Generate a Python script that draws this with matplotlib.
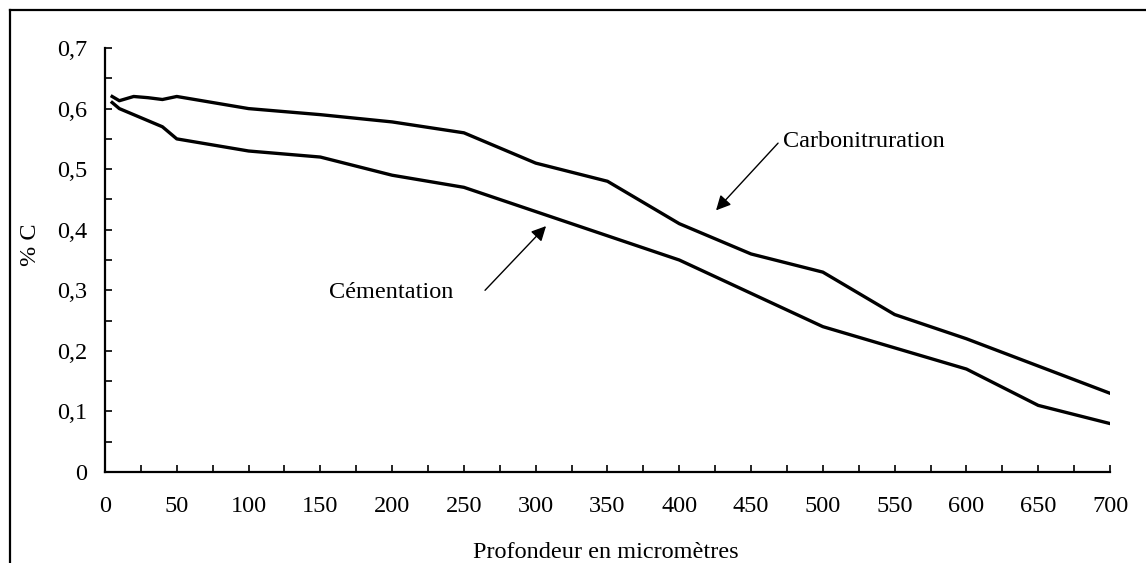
import numpy as np
import matplotlib.pyplot as plt
from matplotlib.lines import Line2D
from matplotlib.ticker import MultipleLocator, FuncFormatter

plt.rcParams['font.family'] = ['Liberation Serif', 'DejaVu Serif']

# Carbonitruration (courbe haute)
x_carbo = [5, 10, 20, 30, 40, 50, 75, 100, 150, 200, 250, 300, 350, 400, 450, 500, 550, 600, 650, 700]
y_carbo = [0.62, 0.613, 0.62, 0.618, 0.615, 0.62, 0.61, 0.60, 0.59, 0.578, 0.56, 0.51, 0.48, 0.41, 0.36, 0.33, 0.26, 0.22, 0.175, 0.13]

# Cementation (courbe basse)
x_cem = [5, 10, 40, 50, 100, 150, 200, 250, 300, 350, 400, 450, 500, 550, 600, 650, 700]
y_cem = [0.61, 0.60, 0.57, 0.55, 0.53, 0.52, 0.49, 0.47, 0.43, 0.39, 0.35, 0.295, 0.24, 0.205, 0.17, 0.11, 0.08]

fs = 17.5

fig = plt.figure(figsize=(11.46, 5.63), dpi=100)
ax = fig.add_axes([0.0916, 0.1616, 0.877, 0.7531])

ax.plot(x_carbo, y_carbo, color='black', lw=2.4, solid_joinstyle='round')
ax.plot(x_cem, y_cem, color='black', lw=2.4, solid_joinstyle='round')

ax.set_xlim(0, 700)
ax.set_ylim(0, 0.7)
ax.xaxis.set_major_locator(MultipleLocator(50))
ax.xaxis.set_minor_locator(MultipleLocator(25))
ax.yaxis.set_major_locator(MultipleLocator(0.1))
ax.yaxis.set_minor_locator(MultipleLocator(0.05))
ax.yaxis.set_major_formatter(FuncFormatter(lambda v, p: ('%g' % round(v, 2)).replace('.', ',')))

for s in ['top', 'right']:
    ax.spines[s].set_visible(False)
for s in ['left', 'bottom']:
    ax.spines[s].set_linewidth(1.6)
ax.tick_params(which='both', direction='in', width=1.2, length=5, labelsize=fs)
ax.tick_params(axis='x', pad=17)
ax.tick_params(axis='y', pad=13)

# titres des axes
fig.text(606/1146, 1 - 558/563, 'Profondeur en micromètres', fontsize=fs,
         ha='center', va='baseline')
fig.text(31/1146, 1 - 245/563, '% C', fontsize=fs, rotation=90,
         ha='center', va='center')

# fleches et etiquettes
arrow = dict(arrowstyle='-|>', color='black', lw=1.0, mutation_scale=22,
             shrinkA=0, shrinkB=0)
ax.annotate('', xy=(425.6, 0.432), xytext=(468.8, 0.543), arrowprops=arrow)
ax.text(472.5, 0.545, 'Carbonitruration', fontsize=fs, ha='left', va='center')
ax.annotate('', xy=(307.2, 0.406), xytext=(264.7, 0.300), arrowprops=arrow)
ax.text(242.4, 0.297, 'Cémentation', fontsize=fs, ha='right', va='center')

# cadre autour de la figure (haut et gauche)
fig.add_artist(Line2D([10/1146, 1.0], [1 - 10/563, 1 - 10/563], color='black', lw=1.6))
fig.add_artist(Line2D([10/1146, 10/1146], [0.0, 1 - 10/563], color='black', lw=1.6))

fig.savefig('out.png', dpi=100)
